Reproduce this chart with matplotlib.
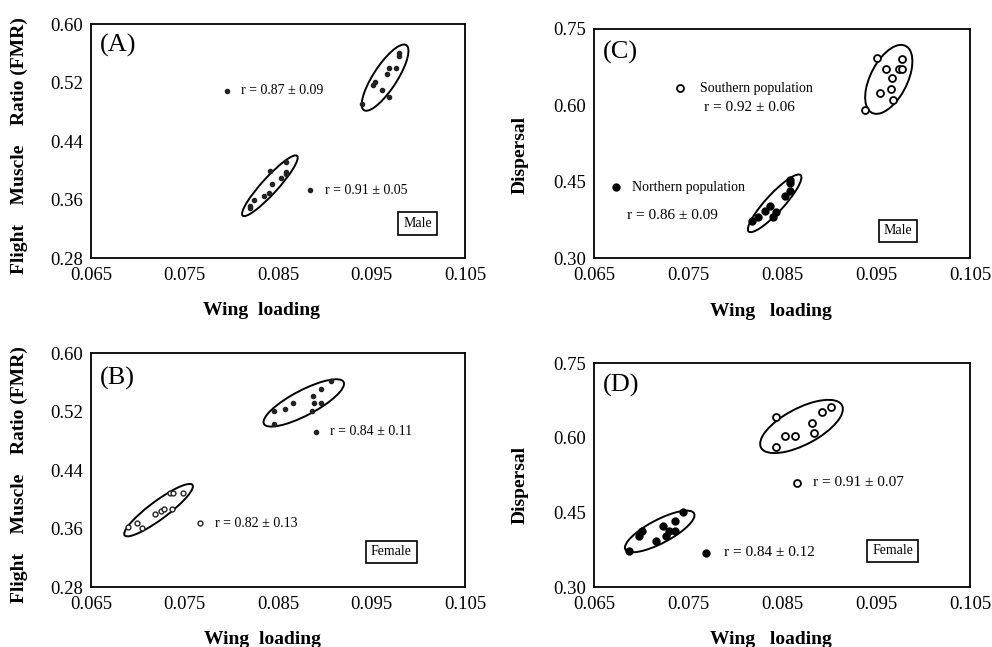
import numpy as np
import matplotlib
matplotlib.use('Agg')
import matplotlib.pyplot as plt
from matplotlib.patches import Ellipse
import matplotlib.transforms as transforms

plt.rcParams['font.family'] = ['Liberation Serif', 'DejaVu Serif']

#------------------------------------------------------------------------------
# values (wing loading , FMR / dispersal)

# (A) male, FMR
A_hi_x = [0.0979, 0.0979, 0.0969, 0.0976, 0.0967, 0.0954, 0.0952, 0.0961, 0.0969, 0.0940]
A_hi_y = [0.5608, 0.5562, 0.5402, 0.5402, 0.5312, 0.5211, 0.5166, 0.5093, 0.5002, 0.4906]
A_lo_x = [0.0859, 0.0842, 0.0859, 0.0859, 0.0853, 0.0844, 0.0840, 0.0835, 0.0824, 0.0820, 0.0820]
A_lo_y = [0.4109, 0.3994, 0.3980, 0.3949, 0.3898, 0.3808, 0.3693, 0.3648, 0.3593, 0.3511, 0.3488]

# (B) female, FMR
B_hi_x = [0.0907, 0.0896, 0.0887, 0.0889, 0.0896, 0.0866, 0.0857, 0.0846, 0.0886, 0.0846]
B_hi_y = [0.5621, 0.5504, 0.5412, 0.5320, 0.5320, 0.5320, 0.5230, 0.5207, 0.5207, 0.5034]
B_lo_x = [0.0690, 0.0699, 0.0705, 0.0719, 0.0725, 0.0728, 0.0734, 0.0738, 0.0748, 0.0737]
B_lo_y = [0.3625, 0.3679, 0.3603, 0.3794, 0.3843, 0.3863, 0.4081, 0.4081, 0.4081, 0.3863]

# (C) male, dispersal
C_south_x = [0.0951, 0.0978, 0.0961, 0.0975, 0.0978, 0.0967, 0.0966, 0.0954, 0.0968, 0.0938]
C_south_y = [0.6924, 0.6910, 0.6714, 0.6714, 0.6714, 0.6543, 0.6321, 0.6248, 0.6105, 0.5908]
C_north_x = [0.0858, 0.0858, 0.0858, 0.0853, 0.0844, 0.0837, 0.0832, 0.0840, 0.0824, 0.0818]
C_north_y = [0.4533, 0.4468, 0.4322, 0.4218, 0.3910, 0.4028, 0.3924, 0.3812, 0.3812, 0.3721]

# (D) female, dispersal
D_south_x = [0.0902, 0.0893, 0.0844, 0.0882, 0.0884, 0.0853, 0.0864, 0.0844]
D_south_y = [0.6610, 0.6510, 0.6409, 0.6301, 0.6100, 0.6028, 0.6028, 0.5819]
D_north_x = [0.0687, 0.0698, 0.0701, 0.0716, 0.0723, 0.0727, 0.0730, 0.0736, 0.0736, 0.0745]
D_north_y = [0.3723, 0.4025, 0.4131, 0.3930, 0.4232, 0.4025, 0.4131, 0.4131, 0.4332, 0.4501]

x_ticks = [0.065, 0.075, 0.085, 0.095, 0.105]
x_labels = ['0.065', '0.075', '0.085', '0.095', '0.105']
fmr_ticks = [0.28, 0.36, 0.44, 0.52, 0.60]
fmr_labels = ['0.28', '0.36', '0.44', '0.52', '0.60']
disp_ticks = [0.30, 0.45, 0.60, 0.75]
disp_labels = ['0.30', '0.45', '0.60', '0.75']

r_text = {'A1': 'r = 0.87 ± 0.09', 'A2': 'r = 0.91 ± 0.05',
          'B1': 'r = 0.84 ± 0.11', 'B2': 'r = 0.82 ± 0.13',
          'C1': 'r = 0.92 ± 0.06', 'C2': 'r = 0.86 ± 0.09',
          'D1': 'r = 0.91 ± 0.07', 'D2': 'r = 0.84 ± 0.12'}


def conf_ellipse(ax, x, y, n_std=1.95):
    x = np.array(x); y = np.array(y)
    cov = np.cov(x, y)
    p = cov[0, 1] / np.sqrt(cov[0, 0] * cov[1, 1])
    ell = Ellipse((0, 0), width=2 * np.sqrt(1 + p), height=2 * np.sqrt(1 - p),
                  facecolor='none', edgecolor='black', lw=1.4)
    sx = np.sqrt(cov[0, 0]) * n_std
    sy = np.sqrt(cov[1, 1]) * n_std
    t = transforms.Affine2D().rotate_deg(45).scale(sx, sy).translate(x.mean(), y.mean())
    ell.set_transform(t + ax.transData)
    ax.add_patch(ell)


def setup(ax, yticks, ylabels, ylim, ylab, ylab_x, ylab_y, xlab, xlab_x, xlab_y, tag, tag_y):
    ax.set_xlim(0.065, 0.105)
    ax.set_ylim(*ylim)
    ax.set_xticks(x_ticks)
    ax.set_xticklabels(x_labels)
    ax.set_yticks(yticks)
    ax.set_yticklabels(ylabels)
    ax.tick_params(length=0, labelsize=13.5)
    ax.tick_params(axis='x', pad=6.5)
    ax.tick_params(axis='y', pad=6)
    for s in ax.spines.values():
        s.set_linewidth(1.3)
    ax.set_ylabel(ylab, fontsize=14, fontweight='bold')
    ax.yaxis.set_label_coords(ylab_x, ylab_y)
    ax.set_xlabel(xlab, fontsize=14, fontweight='bold')
    ax.xaxis.set_label_coords(xlab_x, xlab_y)
    ax.text(0.024, tag_y, tag, transform=ax.transAxes, fontsize=19, va='top', ha='left')


def sexbox(ax, x, y, s):
    ax.text(x, y, s, transform=ax.transAxes, fontsize=10, ha='center', va='center',
            bbox=dict(boxstyle='square,pad=0.35', fc='white', ec='black', lw=1.2))


fig = plt.figure(figsize=(9.92, 6.47), dpi=100)

fmr_lab = 'Flight    Muscle    Ratio (FMR)'

# ---------------- (A)
ax = fig.add_axes([0.0917, 0.6012, 0.377, 0.3617])
ax.plot(A_hi_x, A_hi_y, 'o', color='#222222', ms=3)
ax.plot(A_lo_x, A_lo_y, 'o', color='#222222', ms=3)
conf_ellipse(ax, A_hi_x, A_hi_y)
conf_ellipse(ax, A_lo_x, A_lo_y)
ax.plot([0.0796], [0.5088], 'o', color='#222222', ms=3)
ax.text(0.0811, 0.5088, r_text['A1'], fontsize=10, va='center')
ax.plot([0.0884], [0.3730], 'o', color='#222222', ms=3)
ax.text(0.0900, 0.3730, r_text['A2'], fontsize=10, va='center')
sexbox(ax, 0.873, 0.147, 'Male')
setup(ax, fmr_ticks, fmr_labels, (0.28, 0.60), fmr_lab, -0.168, 0.48,
      'Wing  loading', 0.455, -0.19, '(A)', 0.957)

# ---------------- (B)
ax = fig.add_axes([0.0917, 0.0927, 0.377, 0.3617])
ax.plot(B_hi_x, B_hi_y, 'o', color='#222222', ms=3)
ax.plot(B_lo_x, B_lo_y, 'o', mfc='white', mec='#222222', mew=1.0, ms=3.5)
conf_ellipse(ax, B_hi_x, B_hi_y)
conf_ellipse(ax, B_lo_x, B_lo_y)
ax.plot([0.0891], [0.4924], 'o', color='#222222', ms=3)
ax.text(0.0906, 0.4924, r_text['B1'], fontsize=10, va='center')
ax.plot([0.0767], [0.3671], 'o', mfc='white', mec='#222222', mew=1.0, ms=3.5)
ax.text(0.0783, 0.3671, r_text['B2'], fontsize=10, va='center')
sexbox(ax, 0.803, 0.150, 'Female')
setup(ax, fmr_ticks, fmr_labels, (0.28, 0.60), fmr_lab, -0.168, 0.48,
      'Wing  loading', 0.459, -0.19, '(B)', 0.94)

# ---------------- (C)
ax = fig.add_axes([0.5988, 0.6012, 0.379, 0.354])
ax.plot(C_south_x, C_south_y, 'o', mfc='white', mec='black', mew=1.3, ms=5)
ax.plot(C_north_x, C_north_y, 'o', color='black', ms=5)
conf_ellipse(ax, C_south_x, C_south_y)
conf_ellipse(ax, C_north_x, C_north_y)
ax.plot([0.0741], [0.6335], 'o', mfc='white', mec='black', mew=1.3, ms=5)
ax.text(0.0763, 0.6335, 'Southern population', fontsize=10, va='center')
ax.text(0.0767, 0.5948, r_text['C1'], fontsize=11, va='center')
ax.plot([0.0673], [0.4389], 'o', color='black', ms=5)
ax.text(0.0690, 0.4389, 'Northern population', fontsize=10, va='center')
ax.text(0.0685, 0.3845, r_text['C2'], fontsize=11, va='center')
sexbox(ax, 0.808, 0.118, 'Male')
setup(ax, disp_ticks, disp_labels, (0.30, 0.75), 'Dispersal', -0.173, 0.45,
      'Wing   loading', 0.47, -0.195, '(C)', 0.948)

# ---------------- (D)
ax = fig.add_axes([0.5988, 0.0927, 0.379, 0.3462])
ax.plot(D_south_x, D_south_y, 'o', mfc='white', mec='black', mew=1.3, ms=5)
ax.plot(D_north_x, D_north_y, 'o', color='black', ms=5)
conf_ellipse(ax, D_south_x, D_south_y)
conf_ellipse(ax, D_north_x, D_north_y)
ax.plot([0.0866], [0.5095], 'o', mfc='white', mec='black', mew=1.3, ms=5)
ax.text(0.0883, 0.5095, r_text['D1'], fontsize=11, va='center')
ax.plot([0.0769], [0.3689], 'o', color='black', ms=5)
ax.text(0.0788, 0.3689, r_text['D2'], fontsize=11, va='center')
sexbox(ax, 0.794, 0.161, 'Female')
setup(ax, disp_ticks, disp_labels, (0.30, 0.75), 'Dispersal', -0.173, 0.455,
      'Wing   loading', 0.47, -0.195, '(D)', 0.951)

plt.savefig('out.png', dpi=100)
